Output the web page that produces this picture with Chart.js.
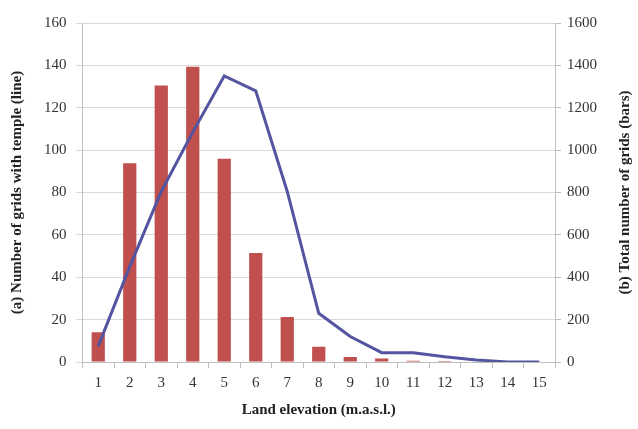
<!DOCTYPE html>
<html>
<head>
<meta charset="utf-8">
<script src="https://cdn.jsdelivr.net/npm/chart.js@4"></script>
<style>
  html, body { margin: 0; padding: 0; background: #fff; }
  #wrap { width: 638px; height: 429px; position: relative; }
</style>
</head>
<body>
<div id="wrap"><canvas id="grafico"></canvas></div>
<script>
// categorias e séries
const elevacao = ['1', '2', '3', '4', '5', '6', '7', '8', '9', '10', '11', '12', '13', '14', '15'];
const gridsTemplo = [7.5, 45, 80.5, 108.5, 135, 128, 80.5, 23, 12, 4.4, 4.4, 2.5, 1, 0, 0];
const gridsTotal = [141, 938, 1305, 1393, 959, 515, 212, 72, 24, 16, 6, 5, 2, 0, 0];

const serif = "'Liberation Serif', 'DejaVu Serif', serif";
const tituloDireito = '(b) Total number of grids (bars)';

// título do eixo direito lido de baixo para cima, como no original
const tituloRotado = {
  id: 'tituloRotado',
  afterDraw(chart) {
    const ctx = chart.ctx;
    const area = chart.chartArea;
    ctx.save();
    ctx.translate(chart.width - 13, (area.top + area.bottom) / 2);
    ctx.rotate(-Math.PI / 2);
    ctx.fillStyle = '#222';
    ctx.font = 'bold 15px ' + serif;
    ctx.textAlign = 'center';
    ctx.textBaseline = 'middle';
    ctx.fillText(tituloDireito, 0, 0);
    ctx.restore();
  }
};

const dataPrin = {
  labels: elevacao,
  datasets: [{
    type: 'line',
    label: 'Number of grids with temple',
    data: gridsTemplo,
    yAxisID: 'yLine',
    borderColor: '#5355a0',
    backgroundColor: '#5355a0',
    borderWidth: 3,
    pointRadius: 0,
    tension: 0,
    order: 0,
  }, {
    type: 'bar',
    label: 'Total number of grids',
    data: gridsTotal,
    yAxisID: 'yBar',
    backgroundColor: '#c0504d',
    barPercentage: 0.42,
    categoryPercentage: 1,
    order: 1,
  }]
};

const configPrin = {
  data: dataPrin,
  plugins: [tituloRotado],
  options: {
    responsive: true,
    maintainAspectRatio: false,
    animation: false,
    layout: { padding: { top: 23, left: 4, right: 4, bottom: 6 } },
    plugins: { legend: { display: false }, tooltip: { enabled: false } },
    scales: {
      x: {
        offset: true,
        grid: { offset: true, drawOnChartArea: false, drawTicks: true, tickLength: 6, color: '#bfbfbf' },
        border: { color: '#bfbfbf' },
        ticks: { color: '#333', font: { family: serif, size: 15 }, padding: 6, maxRotation: 0 },
        title: { display: true, text: 'Land elevation (m.a.s.l.)', color: '#222',
                 font: { family: serif, size: 15, weight: 'bold' }, padding: { top: 3 } }
      },
      yLine: {
        position: 'left',
        min: 0, max: 160,
        ticks: { stepSize: 20, color: '#333', font: { family: serif, size: 15 }, padding: 10 },
        grid: { color: '#d9d9d9', tickLength: 6 },
        border: { color: '#bfbfbf' },
        title: { display: true, text: '(a) Number of grids with temple (line)', color: '#222',
                 font: { family: serif, size: 15, weight: 'bold' }, padding: { bottom: 8 } }
      },
      yBar: {
        position: 'right',
        min: 0, max: 1600,
        ticks: { stepSize: 200, color: '#333', font: { family: serif, size: 15 }, padding: 6,
                 callback: (v) => String(v) },
        grid: { drawOnChartArea: false, color: '#bfbfbf', tickLength: 6 },
        border: { color: '#bfbfbf' },
        title: { display: true, text: tituloDireito, color: 'rgba(0,0,0,0)',
                 font: { family: serif, size: 15, weight: 'bold' }, padding: { top: 9 } }
      }
    }
  }
};

const myChart = new Chart(document.getElementById('grafico'), configPrin);
</script>
</body>
</html>
